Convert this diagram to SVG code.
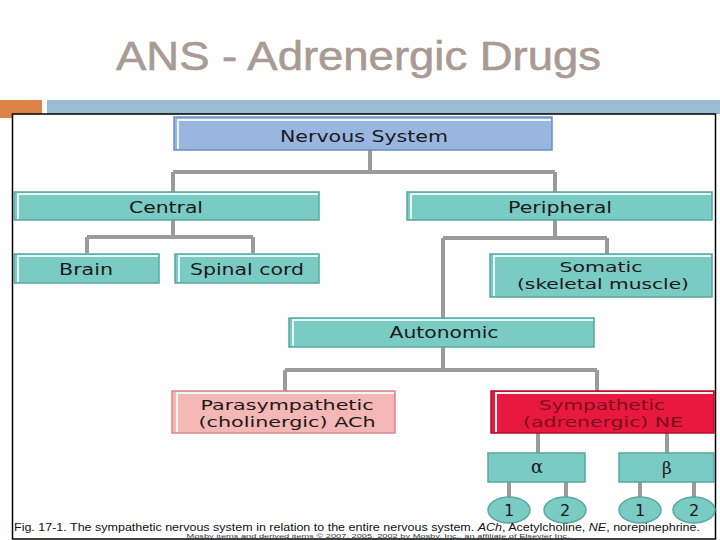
<svg xmlns="http://www.w3.org/2000/svg" width="720" height="540" viewBox="0 0 720 540">
<defs>
<style>
.t{font-family:"DejaVu Sans","Liberation Sans",sans-serif;font-size:16px;fill:#1a1a1a;text-anchor:middle}
.t2{font-size:14.5px}
.box{stroke-width:1.5}
.teal{fill:#7acbc3;stroke:#58a89f}
.blue{fill:#98b6e0;stroke:#6d8fc0}
.pink{fill:#f5b6b6;stroke:#d58888}
.red{fill:#e8183f;stroke:#b80d2c}
.hl{stroke:#e8f6f4;stroke-width:2;fill:none}
.con{stroke:#9b9b9b;stroke-width:4;fill:none}
</style>
</defs>
<rect width="720" height="540" fill="#fff"/>
<text x="358.5" y="70" font-family="Liberation Sans,Arial,sans-serif" font-size="40" fill="#a99a93" stroke="#a99a93" stroke-width="0.6" text-anchor="middle" textLength="485" lengthAdjust="spacingAndGlyphs">ANS - Adrenergic Drugs</text>
<rect x="0" y="100" width="42" height="18" fill="#dd8347"/>
<rect x="47" y="100" width="673" height="14" fill="#9bbad3"/>
<rect x="12.5" y="114" width="703" height="425" fill="#fff" stroke="#000" stroke-width="1.5"/>

<g id="connectors">
<path class="con" d="M370 150V172M173 172H555M173 172V192M555 172V192"/>
<path class="con" d="M173 220V237M87 237H253M87 237V253M253 237V253"/>
<path class="con" d="M555 220V238M443 238H607M607 238V254M443 238V318"/>
<path class="con" d="M443 347V370M285 370H597M285 370V391M597 370V391"/>
<path class="con" d="M538 433V453M667 433V453"/>
<path class="con" d="M509 482V497M566 482V497M640 482V497M694 482V497"/>
</g>

<g id="nervous"><rect class="box blue" x="174" y="117" width="378" height="33"/><path class="hl" d="M178 149V120H551" stroke="#dde7f6"/><text class="t" x="364" y="142" textLength="168" lengthAdjust="spacingAndGlyphs">Nervous System</text></g>
<g id="central"><rect class="box teal" x="14" y="192" width="305" height="28"/><path class="hl" d="M18 219V194H318"/><text class="t" x="166" y="213" textLength="74" lengthAdjust="spacingAndGlyphs">Central</text></g>
<g id="peripheral"><rect class="box teal" x="407" y="192" width="305" height="28"/><path class="hl" d="M411 219V194H711"/><text class="t" x="560" y="213" textLength="104" lengthAdjust="spacingAndGlyphs">Peripheral</text></g>
<g id="brain"><rect class="box teal" x="14" y="254" width="145" height="29"/><path class="hl" d="M18 282V256H158"/><text class="t" x="86" y="275" textLength="54" lengthAdjust="spacingAndGlyphs">Brain</text></g>
<g id="spinal"><rect class="box teal" x="175" y="254" width="144" height="29"/><path class="hl" d="M179 282V256H318"/><text class="t" x="247" y="275" textLength="114" lengthAdjust="spacingAndGlyphs">Spinal cord</text></g>
<g id="somatic"><rect class="box teal" x="490" y="254" width="222" height="43"/><path class="hl" d="M494 296V256H711"/><text class="t t2" x="601" y="272" textLength="83" lengthAdjust="spacingAndGlyphs">Somatic</text><text class="t t2" x="603" y="289" textLength="172" lengthAdjust="spacingAndGlyphs">(skeletal muscle)</text></g>
<g id="autonomic"><rect class="box teal" x="289" y="318" width="305" height="29"/><path class="hl" d="M293 346V320H593"/><text class="t" x="444" y="338" textLength="109" lengthAdjust="spacingAndGlyphs">Autonomic</text></g>
<g id="para"><rect class="box pink" x="172" y="391" width="223" height="42"/><path class="hl" d="M177 432V393H394" stroke="#fde6e6"/><text class="t t2" x="287" y="410" textLength="173" lengthAdjust="spacingAndGlyphs">Parasympathetic</text><text class="t t2" x="287" y="427" textLength="177" lengthAdjust="spacingAndGlyphs">(cholinergic) ACh</text></g>
<g id="symp"><rect class="box red" x="491" y="391" width="223" height="42"/><path class="hl" d="M496 432V393H713" stroke="#f7c9d2"/><text class="t t2" x="602" y="410" textLength="126" lengthAdjust="spacingAndGlyphs" style="fill:#7a0f1e">Sympathetic</text><text class="t t2" x="603" y="427" textLength="160" lengthAdjust="spacingAndGlyphs" style="fill:#7a0f1e">(adrenergic) NE</text></g>
<g id="alpha"><rect class="box teal" x="488" y="453" width="97" height="29"/><text class="t" x="537" y="473" style="font-family:'DejaVu Serif',serif;font-size:18px">α</text></g>
<g id="beta"><rect class="box teal" x="619" y="453" width="95" height="29"/><text class="t" x="667" y="474" style="font-family:'DejaVu Serif',serif;font-size:17px">β</text></g>
<g id="a1"><ellipse class="box teal" cx="509" cy="510" rx="21" ry="13"/><text class="t" x="509" y="516">1</text></g>
<g id="a2"><ellipse class="box teal" cx="565" cy="510" rx="21" ry="13"/><text class="t" x="565" y="516">2</text></g>
<g id="b1"><ellipse class="box teal" cx="640" cy="510" rx="21" ry="13"/><text class="t" x="640" y="516">1</text></g>
<g id="b2"><ellipse class="box teal" cx="694" cy="510" rx="21" ry="13"/><text class="t" x="694" y="516">2</text></g>

<text x="14" y="531" font-family="Liberation Sans,Arial,sans-serif" font-size="10.5" fill="#111" textLength="686" lengthAdjust="spacingAndGlyphs">Fig. 17-1. The sympathetic nervous system in relation to the entire nervous system. <tspan font-style="italic">ACh</tspan>, Acetylcholine, <tspan font-style="italic">NE</tspan>, norepinephrine.</text>
<text x="378" y="537.5" font-family="Liberation Sans,Arial,sans-serif" font-size="5.5" fill="#333" text-anchor="middle" textLength="383" lengthAdjust="spacingAndGlyphs">Mosby items and derived items © 2007, 2005, 2002 by Mosby, Inc., an affiliate of Elsevier Inc.</text>
</svg>
